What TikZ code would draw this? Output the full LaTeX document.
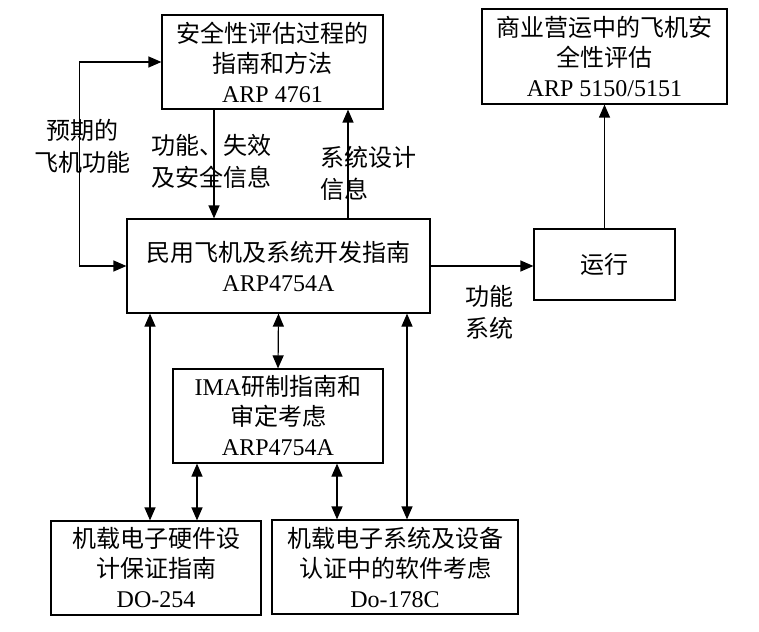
\documentclass[tikz,border=0pt]{standalone}
\usepackage{fontspec}
\setmainfont{Liberation Serif}
\newfontfamily\cjk{Noto Sans CJK SC}
\newfontfamily\lat{Liberation Serif}
\usetikzlibrary{arrows.meta}

\begin{document}
\begin{tikzpicture}[
		x=1pt, y=-1pt,
		line width=1.2pt,
		every node/.style={rectangle, inner sep=0pt, align=center, font=\cjk\fontsize{24pt}{30pt}\selectfont},
		box/.style={draw, minimum height=94pt},
		note/.style={align=left, anchor=west, font=\cjk\fontsize{24pt}{32pt}\selectfont},
		arr/.style={-{Triangle[length=13pt, width=11pt]}},
		twoway/.style={{Triangle[length=13pt, width=11pt]}-{Triangle[length=13pt, width=11pt]}}
	]
  \useasboundingbox (0, 0) rectangle (759, 631);
  \node (arp_4761) [box, minimum width=221pt] at (272.5, 62) {安全性评估过程的\\指南和方法\\{\lat ARP 4761}};
  \node (arp_5150) [box, minimum width=245pt, minimum height=95pt] at (604.5, 56.5) {商业营运中的飞机安\\全性评估\\{\lat ARP 5150/5151}};
  \node (arp_4754a) [box, minimum width=303pt] at (278.5, 266) {民用飞机及系统开发指南\\{\lat ARP4754A}};
  \node (ops) [box, minimum width=141pt, minimum height=71pt] at (604.5, 264.5) {运行};
  \node (ima) [box, minimum width=210pt] at (278, 416) {{\lat IMA}研制指南和\\审定考虑\\{\lat ARP4754A}};
  \node (do_254) [box, minimum width=210pt] at (156, 568) {机载电子硬件设\\计保证指南\\{\lat DO-254}};
  \node (do_178c) [box, minimum width=246pt] at (395, 567) {机载电子系统及设备\\认证中的软件考虑\\{\lat Do-178C}};
  \node (fn_label) [note, anchor=center, align=center] at (82, 146.5) {预期的\\飞机功能};
  \node (fail_label) [note] at (151, 161.5) {功能、失效\\及安全信息};
  \node (sys_label) [note] at (320, 173.5) {系统设计\\信息};
  \node (out_label) [note] at (465, 312.5) {功能\\系统};
  \draw [twoway] (arp_4754a.west) -- ++(-47, 0) |- (arp_4761.west);
  \draw [arr] (arp_4761.south -| 214, 0) -- (arp_4754a.north -| 214, 0);
  \draw [arr] (arp_4754a.north -| 348, 0) -- (arp_4761.south -| 348, 0);
  \draw [arr] (arp_4754a.east) -- (arp_4754a.east -| ops.west);
  \draw [arr] (ops.north) -- (arp_5150.south);
  \draw [twoway] (arp_4754a.south -| 150, 0) -- (do_254.north -| 150, 0);
  \draw [twoway] (arp_4754a.south) -- (ima.north);
  \draw [twoway] (arp_4754a.south -| 407, 0) -- (do_178c.north -| 407, 0);
  \draw [twoway] (ima.south -| 197, 0) -- (do_254.north -| 197, 0);
  \draw [twoway] (ima.south -| 337, 0) -- (do_178c.north -| 337, 0);
\end{tikzpicture}
\end{document}
